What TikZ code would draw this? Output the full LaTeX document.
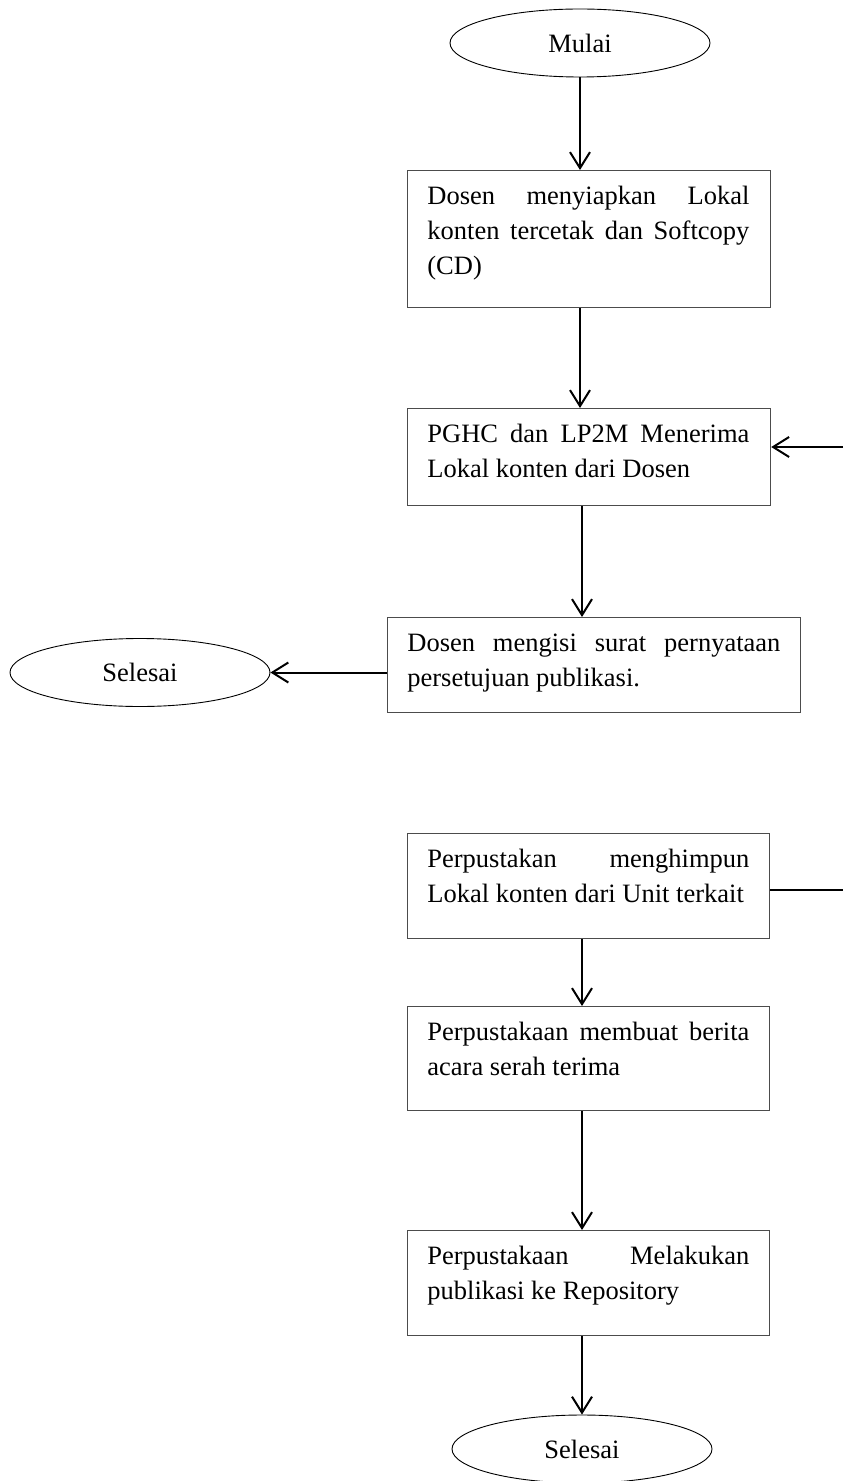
\documentclass[tikz,border=0pt]{standalone}
\usepackage{fontspec}
\setmainfont{Liberation Serif}
\usetikzlibrary{arrows.meta,shapes.geometric}
\tikzset{
  procbox/.style={draw=black!70, line width=0.6pt, rectangle, inner sep=0pt},
  termnode/.style={draw=black, line width=0.45pt, ellipse, inner sep=0pt, minimum width=130pt, minimum height=34pt, font=\fontsize{13.25pt}{17.6pt}\selectfont},
  boxtext/.style={inner sep=0pt, anchor=north west, align=justify, text width=161pt, font=\fontsize{13.25pt}{17.6pt}\selectfont},
  arr/.style={line width=1pt, -{Straight Barb[length=8pt,width=10pt,line width=1pt]}},
  plain/.style={line width=1pt}
}
\begin{document}
\begin{tikzpicture}[x=0.5pt,y=-0.5pt]
\useasboundingbox (0,0) rectangle (843,1481);
% terminals
\node[termnode] (mulai) at (580,43) {Mulai};
\node[termnode] (sel1) at (140,672.5) {Selesai};
\node[termnode] (sel2) at (582,1449) {Selesai};
% boxes
\node[procbox, anchor=north west, minimum width=181.5pt, minimum height=68.5pt] (b1) at (407,170) {};
\node[procbox, anchor=north west, minimum width=181.5pt, minimum height=48.5pt] (b2) at (407,408) {};
\node[procbox, anchor=north west, minimum width=206.5pt, minimum height=47.5pt] (b3) at (387,617) {};
\node[procbox, anchor=north west, minimum width=181pt, minimum height=52.5pt] (b4) at (407,833) {};
\node[procbox, anchor=north west, minimum width=181pt, minimum height=52pt] (b5) at (407,1006) {};
\node[procbox, anchor=north west, minimum width=181pt, minimum height=52.5pt] (b6) at (407,1230) {};
% texts
\node[boxtext] (t1) at ([shift={(20,9.4)}]b1.north west) {\strut Dosen menyiapkan Lokal\linebreak konten tercetak dan Softcopy\linebreak (CD)};
\node[boxtext] (t2) at ([shift={(20,9.4)}]b2.north west) {\strut PGHC dan LP2M Menerima\linebreak Lokal konten dari Dosen};
\node[boxtext, text width=186.5pt] (t3) at ([shift={(20,9.4)}]b3.north west) {\strut Dosen mengisi surat pernyataan\linebreak persetujuan publikasi.};
\node[boxtext] (t4) at ([shift={(20,9.4)}]b4.north west) {\strut Perpustakan menghimpun\linebreak Lokal konten dari Unit terkait};
\node[boxtext] (t5) at ([shift={(20,9.4)}]b5.north west) {\strut Perpustakaan membuat berita\linebreak acara serah terima};
\node[boxtext] (t6) at ([shift={(20,9.4)}]b6.north west) {\strut Perpustakaan Melakukan\linebreak publikasi ke Repository};
% helper coordinates
\coordinate (cx) at (582,0);
\coordinate (r1) at (843,447);
\coordinate (r2) at (843,890);
% connectors
\draw[arr] (mulai.south) -- (mulai.south |- b1.north);
\draw[arr] (b1.south -| mulai.south) -- (b2.north -| mulai.south);
\draw[arr] (r1) -- (r1 -| b2.east);
\draw[arr] (b2.south -| cx) -- (b3.north -| cx);
\draw[arr] (b3.west |- sel1.east) -- (sel1.east);
\draw[plain] (b4.east |- r2) -- (r2);
\draw[arr] (b4.south -| cx) -- (b5.north -| cx);
\draw[arr] (b5.south -| cx) -- (b6.north -| cx);
\draw[arr] (b6.south -| cx) -- (sel2.north);
\end{tikzpicture}
\end{document}
